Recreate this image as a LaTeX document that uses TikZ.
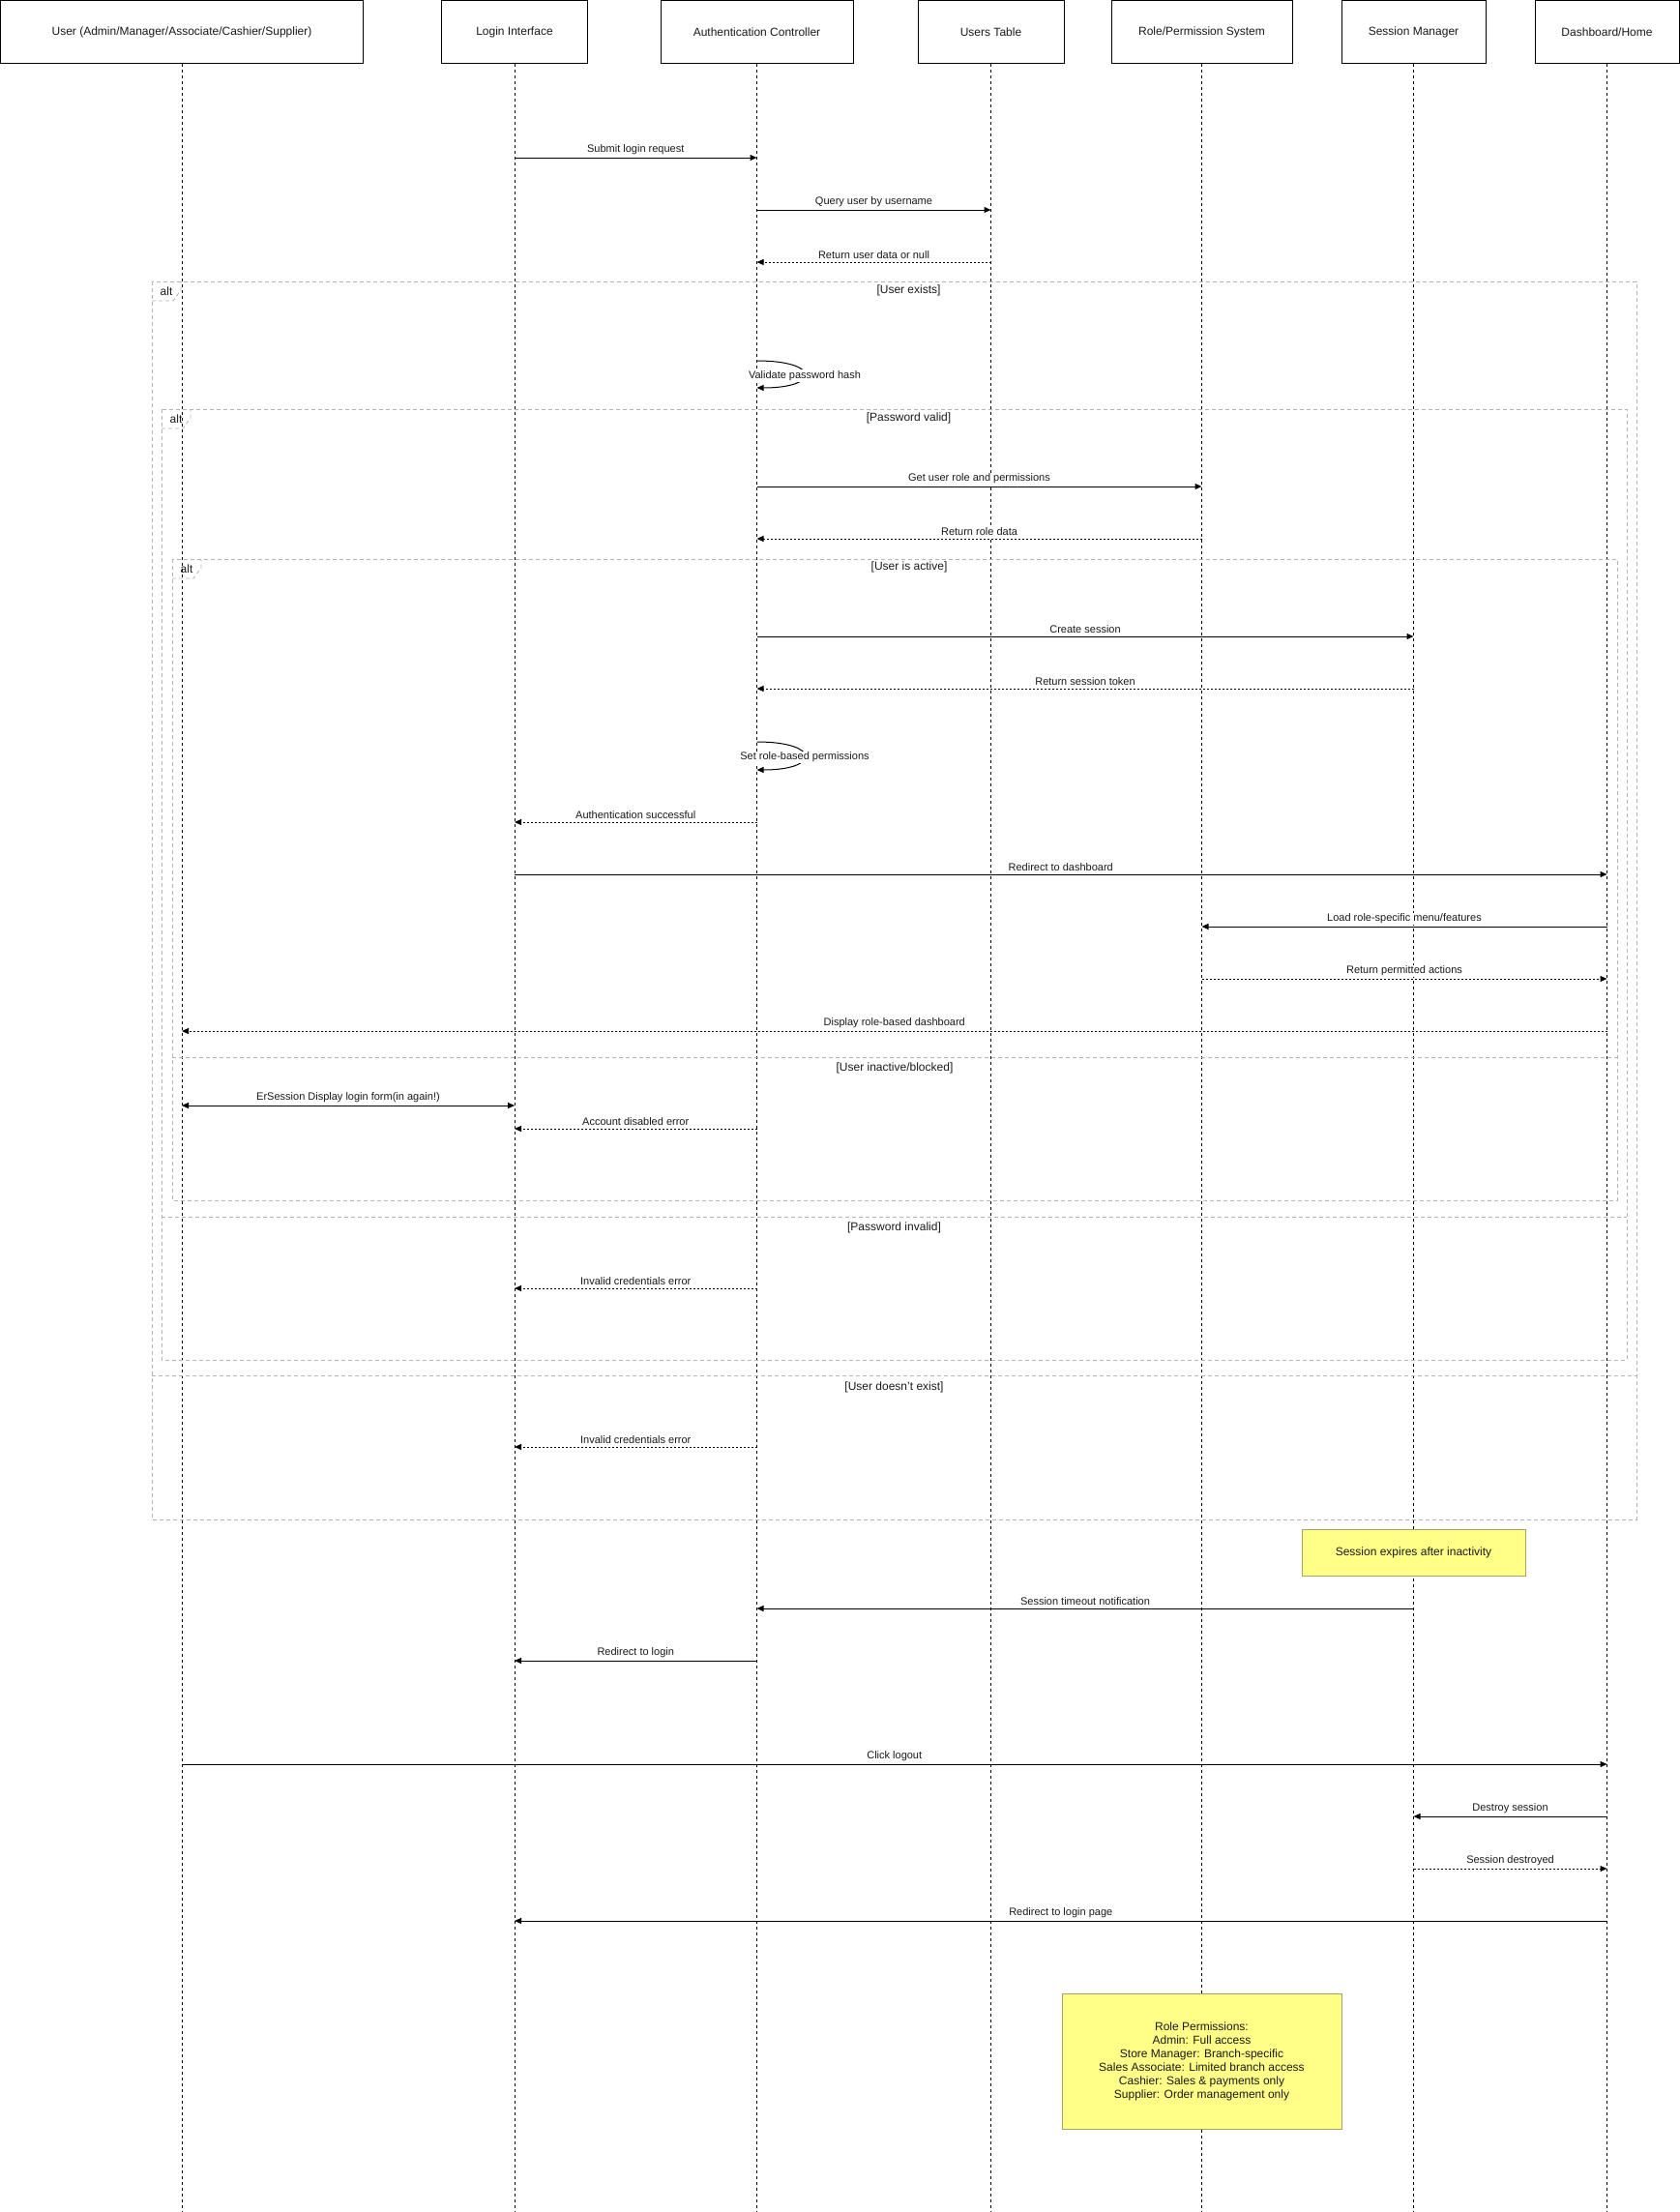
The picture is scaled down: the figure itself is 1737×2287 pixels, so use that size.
\documentclass[tikz,border=0pt]{standalone}
\usepackage{fontspec}
\setmainfont{Liberation Sans}
\usetikzlibrary{arrows.meta}

\definecolor{framegray}{HTML}{B3B3B3}
\definecolor{notefill}{HTML}{FFFF88}
\definecolor{noteline}{HTML}{A3A36B}
\definecolor{ink}{HTML}{1A1A1A}

\tikzset{
  actorbox/.style={draw=black, line width=0.9pt, fill=white, inner sep=0pt, text=ink, font=\fontsize{12}{14}\selectfont},
  lifeline/.style={draw=black, line width=0.8pt, dash pattern=on 3pt off 3pt},
  call/.style={draw=black, line width=1pt, -{Triangle[length=7pt,width=6pt]}},
  reply/.style={call, dash pattern=on 2pt off 2pt},
  mlabel/.style={font=\fontsize{11}{13}\selectfont, text=ink, fill=white, inner sep=1pt},
  fragment/.style={draw=framegray, line width=0.8pt, dash pattern=on 4pt off 3pt},
  guard/.style={font=\fontsize{12}{14}\selectfont, text=ink, inner sep=0pt},
  notebox/.style={draw=noteline, line width=0.8pt, fill=notefill, text=ink, font=\fontsize{12}{14}\selectfont, align=center, inner sep=0pt},
}

% message between two lifelines at height #4
\newcommand{\seqcall}[5][call]{%
  \draw[#1] (#2.south |- 0,#4) -- node[mlabel, above=1.5pt]{#5} (#3.south |- 0,#4);}
% message from a lifeline to itself
\newcommand{\seqself}[4]{%
  \draw[call] (#1.south |- 0,#2) .. controls +(66,0) and +(66,0) .. node[mlabel, yshift=-1.5pt]{#4} (#1.south |- 0,#3);}

\begin{document}
\begin{tikzpicture}[x=1pt, y=-1pt]
\useasboundingbox (0,0) rectangle (1737,2287);

% participants
\node[actorbox, minimum width=375pt, minimum height=65pt] (user) at (188,33) {User (Admin/Manager/Associate/Cashier/Supplier)};
\node[actorbox, minimum width=151pt, minimum height=65pt] (login) at (532,33) {Login Interface};
\node[actorbox, minimum width=199pt, minimum height=65pt] (auth) at (782.5,33) {Authentication Controller};
\node[actorbox, minimum width=151pt, minimum height=65pt] (users) at (1024.5,33) {Users Table};
\node[actorbox, minimum width=187pt, minimum height=65pt] (role) at (1242.5,33) {Role/Permission System};
\node[actorbox, minimum width=149pt, minimum height=65pt] (sess) at (1461.5,33) {Session Manager};
\node[actorbox, minimum width=149pt, minimum height=65pt] (dash) at (1661.5,33) {Dashboard/Home};

% lifelines
\foreach \p in {user,login,auth,users,role,sess,dash}
  \draw[lifeline] (\p.south) -- (\p.south |- 0,2287);

% combined fragments
\draw[fragment] (157,291) rectangle (1692,1571);
\draw[fragment] (157,311) -- (179,311) -- (187,300) -- (187,291);
\node[guard] (alt1) at (172,301) {alt};
\node[guard] (g1a) at (939.5,300) {[User exists]};
\draw[fragment] (157,1422) -- (1692,1422);
\node[guard] (g1b) at (924.5,1434) {[User doesn't exist]};

\draw[fragment] (167,423) rectangle (1682,1406);
\draw[fragment] (167,443) -- (189,443) -- (197,432) -- (197,423);
\node[guard] (alt2) at (182,433) {alt};
\node[guard] (g2a) at (939.5,432) {[Password valid]};
\draw[fragment] (167,1258) -- (1682,1258);
\node[guard] (g2b) at (924.5,1269) {[Password invalid]};

\draw[fragment] (178,578) rectangle (1672,1241);
\draw[fragment] (178,598) -- (200,598) -- (208,587) -- (208,578);
\node[guard] (alt3) at (193,588) {alt};
\node[guard] (g3a) at (940,586) {[User is active]};
\draw[fragment] (178,1093) -- (1672,1093);
\node[guard] (g3b) at (925,1104) {[User inactive/blocked]};

% messages
\seqcall{login}{auth}{163}{Submit login request}
\seqcall{auth}{users}{217}{Query user by username}
\seqcall[reply]{users}{auth}{271}{Return user data or null}
\seqself{auth}{373}{401}{Validate password hash}
\seqcall{auth}{role}{503}{Get user role and permissions}
\seqcall[reply]{role}{auth}{557}{Return role data}
\seqcall{auth}{sess}{658}{Create session}
\seqcall[reply]{sess}{auth}{712}{Return session token}
\seqself{auth}{767}{796}{Set role-based permissions}
\seqcall[reply]{auth}{login}{850}{Authentication successful}
\seqcall{login}{dash}{904}{Redirect to dashboard}
\seqcall{dash}{role}{958}{Load role-specific menu/features}
\seqcall[reply]{role}{dash}{1012}{Return permitted actions}
\seqcall[reply]{dash}{user}{1066}{Display role-based dashboard}
\seqcall[{call, {Triangle[length=7pt,width=6pt]}-{Triangle[length=7pt,width=6pt]}}]{user}{login}{1143}{ErSession Display login form(in again!)}
\seqcall[reply]{auth}{login}{1167}{Account disabled error}
\seqcall[reply]{auth}{login}{1332}{Invalid credentials error}
\seqcall[reply]{auth}{login}{1496}{Invalid credentials error}

\node[notebox, minimum width=231pt, minimum height=48pt] (expiry) at (1461.5,1605) {Session expires after inactivity};

\seqcall{sess}{auth}{1663}{Session timeout notification}
\seqcall{auth}{login}{1717}{Redirect to login}
\seqcall{user}{dash}{1824}{Click logout}
\seqcall{dash}{sess}{1878}{Destroy session}
\seqcall[reply]{sess}{dash}{1932}{Session destroyed}
\seqcall{dash}{login}{1986}{Redirect to login page}

\node[notebox, minimum width=289pt, minimum height=140pt] (perms) at (1242.5,2131)
  {Role Permissions:\\Admin: Full access\\Store Manager: Branch-specific\\Sales Associate: Limited branch access\\Cashier: Sales \& payments only\\Supplier: Order management only};
\end{tikzpicture}
\end{document}
